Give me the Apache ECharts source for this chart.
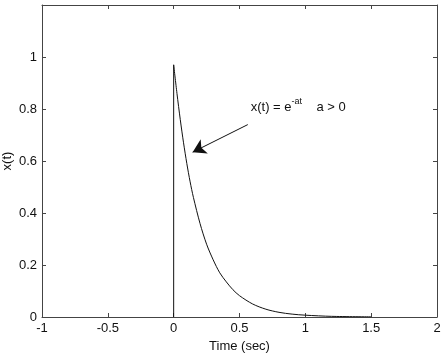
<!DOCTYPE html>
<html>
<head>
<meta charset="utf-8">
<script src="https://cdn.jsdelivr.net/npm/echarts@6/dist/echarts.min.js"></script>
<style>
  html, body { margin: 0; padding: 0; background: #fff; }
  #chart { width: 443px; height: 354px; }
</style>
</head>
<body>
<div id="chart"></div>
<script>
// values
var stepT = [0, 0]
var stepX = [0, 0.97]
var timeVals = [0, 0.025, 0.05, 0.075, 0.1, 0.125, 0.15, 0.2, 0.25, 0.3, 0.35, 0.4, 0.45, 0.5, 0.6, 0.7, 0.8, 0.9, 1.0, 1.2, 1.5]
var xVals = [0.97, 0.86, 0.76, 0.67, 0.59, 0.52, 0.46, 0.36, 0.28, 0.22, 0.17, 0.135, 0.105, 0.082, 0.05, 0.03, 0.018, 0.011, 0.007, 0.0025, 0.0006]
var arrowFrom = [0.563, 0.74]
var arrowTo = [0.144, 0.634]
var labelAt = [0.585, 0.79]

var axisColor = '#444'
var font = 'Liberation Sans, Arial, sans-serif'

function pairs(a, b) {
  return a.map(function (v, i) { return [v, b[i]] })
}

var chart = echarts.init(document.getElementById('chart'))

var baseX = {
  type: 'value', min: -1, max: 2, interval: 0.5,
  axisLine: { show: true, onZero: false, lineStyle: { color: axisColor, width: 1 } },
  axisTick: { show: true, inside: true, length: 4, lineStyle: { color: axisColor } },
  splitLine: { show: false }
}
var baseY = {
  type: 'value', min: 0, max: 1.2, interval: 0.2,
  axisLine: { show: true, onZero: false, lineStyle: { color: axisColor, width: 1 } },
  axisTick: { show: true, inside: true, length: 4, lineStyle: { color: axisColor } },
  splitLine: { show: false }
}

var option = {
  animation: false,
  backgroundColor: '#fff',
  grid: { left: 42, right: 6, top: 5, bottom: 37, containLabel: false, outerBoundsMode: 'none' },
  xAxis: [
    Object.assign({}, baseX, {
      position: 'bottom',
      name: 'Time (sec)', nameLocation: 'middle', nameGap: 23,
      nameTextStyle: { fontFamily: font, fontSize: 13, color: '#111' },
      axisLabel: { margin: 5, fontFamily: font, fontSize: 13, color: '#111' }
    }),
    Object.assign({}, baseX, { position: 'top', axisLabel: { show: false } })
  ],
  yAxis: [
    Object.assign({}, baseY, {
      position: 'left',
      name: 'x(t)', nameLocation: 'middle', nameGap: 28, nameMoveOverlap: false,
      nameTextStyle: { fontFamily: font, fontSize: 13, color: '#111' },
      axisLabel: {
        margin: 5, fontFamily: font, fontSize: 13, color: '#111',
        formatter: function (v) { return v > 1.1 ? '' : String(Math.round(v * 10) / 10) }
      }
    }),
    Object.assign({}, baseY, { position: 'right', axisLabel: { show: false } })
  ],
  series: [
    {
      type: 'line', data: pairs(stepT, stepX), symbol: 'none',
      lineStyle: { color: '#111', width: 1 }
    },
    {
      type: 'line', data: pairs(timeVals, xVals), symbol: 'none', smooth: 0.3,
      lineStyle: { color: '#111', width: 1 },
      markLine: {
        silent: true,
        symbol: ['none', 'arrow'],
        symbolSize: [12, 13],
        lineStyle: { color: '#111', width: 1, type: 'solid' },
        label: { show: false },
        data: [[{ coord: arrowFrom }, { coord: arrowTo }]]
      }
    }
  ]
}
chart.setOption(option)

var p = chart.convertToPixel({ gridIndex: 0 }, labelAt)
chart.setOption({
  graphic: [{
    type: 'text', left: p[0], top: p[1] - 15,
    style: {
      text: '{b|x(t) = e}{s|-at}{b|    a > 0}',
      rich: {
        b: { fontFamily: font, fontSize: 13, fill: '#111', verticalAlign: 'bottom', lineHeight: 17 },
        s: { fontFamily: font, fontSize: 9, fill: '#111', verticalAlign: 'top', lineHeight: 17, padding: [0, 0, 6, 0] }
      }
    }
  }]
})
</script>
</body>
</html>
